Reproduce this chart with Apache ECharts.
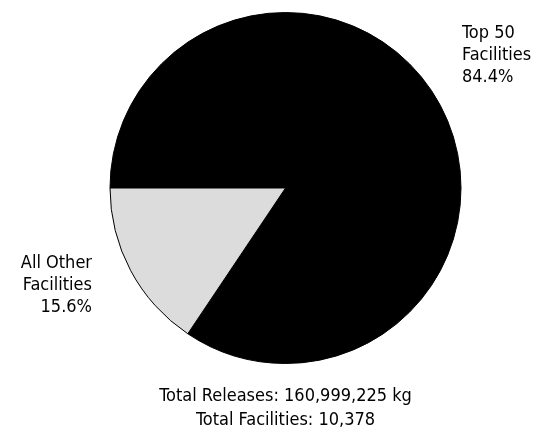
<!DOCTYPE html>
<html>
<head>
<meta charset="utf-8">
<script src="https://cdn.jsdelivr.net/npm/echarts@6/dist/echarts.min.js"></script>
<style>
html,body{margin:0;padding:0;background:#fff;}
#chart{width:538px;height:433px;}
</style>
</head>
<body>
<div id="chart"></div>
<script>
var categories = ['Top 50\nFacilities', 'All Other\nFacilities'];
var shares = [84.4, 15.6];
var sliceColors = ['#000000', '#dcdcdc'];
var footerLines = ['Total Releases: 160,999,225 kg', 'Total Facilities: 10,378'];

var FONT = '"DejaVu Sans Condensed", "DejaVu Sans", sans-serif';
var chart = echarts.init(document.getElementById('chart'), null, {renderer: 'canvas'});

var labelPos = [
  {x: 462, y: 22, align: 'left', verticalAlign: 'top'},
  {x: 92, y: 252, align: 'right', verticalAlign: 'top'}
];

chart.setOption({
  backgroundColor: '#ffffff',
  animation: false,
  series: [{
    type: 'pie',
    center: [285.5, 188],
    radius: 175.5,
    startAngle: 180,
    clockwise: true,
    avoidLabelOverlap: false,
    data: categories.map(function (c, i) {
      return {name: c, value: shares[i], itemStyle: {color: sliceColors[i]}};
    }),
    itemStyle: {borderColor: '#000000', borderWidth: 1},
    label: {
      show: true,
      position: 'outside',
      fontFamily: FONT,
      fontSize: 18,
      lineHeight: 22,
      color: '#000',
      formatter: function (p) { return p.name + '\n' + shares[p.dataIndex].toFixed(1) + '%'; }
    },
    labelLine: {show: false},
    labelLayout: function (params) { return labelPos[params.dataIndex]; },
    emphasis: {disabled: true}
  }],
  graphic: [{
    type: 'text',
    x: 285.5,
    y: 384,
    style: {
      text: footerLines.join('\n'),
      fontFamily: FONT,
      fontSize: 18,
      lineHeight: 24,
      fill: '#000',
      align: 'center',
      verticalAlign: 'top'
    }
  }]
});
</script>
</body>
</html>
